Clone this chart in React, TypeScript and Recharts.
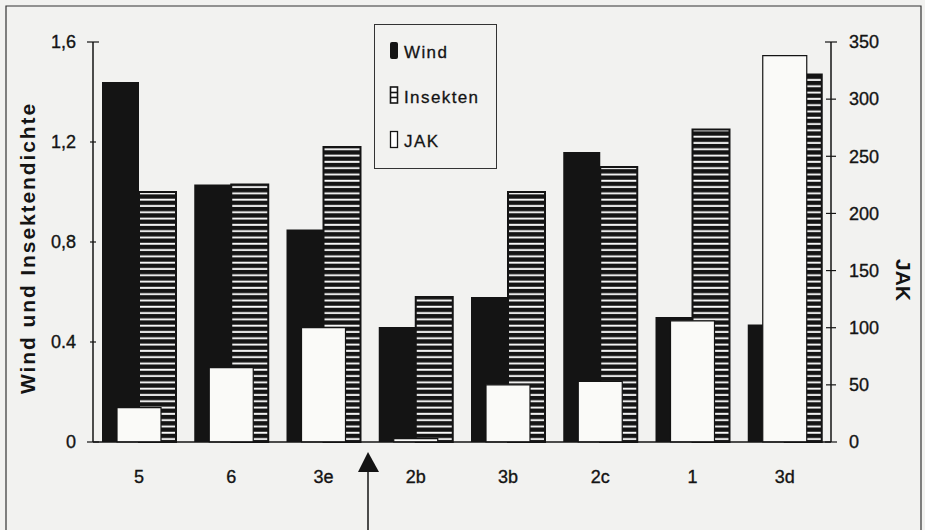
import React from "react";
import { Bar, BarChart, Legend, XAxis, YAxis } from "recharts";

const sites = ["5", "6", "3e", "2b", "3b", "2c", "1", "3d"];
const wind = [1.44, 1.03, 0.85, 0.46, 0.58, 1.16, 0.5, 0.47];
const insekten = [1.0, 1.03, 1.18, 0.58, 1.0, 1.1, 1.25, 1.47];
const jak = [30, 65, 100, 3, 50, 53, 106, 338];

const leftTicks = [0, 0.4, 0.8, 1.2, 1.6];
const leftTickLabels = ["0", "0.4", "0,8", "1,2", "1,6"];
const rightTicks = [0, 50, 100, 150, 200, 250, 300, 350];
const legendOrder = ["wind", "insekten", "jak"];

const data = sites.map((site, i) => ({
  site,
  wind: wind[i],
  insekten: insekten[i],
  jak: jak[i],
}));

const FONT = "'Liberation Sans', Arial, sans-serif";
const INK = "#141414";
const BG = "#f2f2f0";

const LeftTick = (props: any) => {
  const { x, y, payload } = props;
  const i = leftTicks.indexOf(payload.value);
  const ax = x + 17;
  const half = i === 0 || i === leftTicks.length - 1 ? 6 : 3;
  return (
    <g>
      <line x1={ax - half} x2={ax + half} y1={y} y2={y} stroke={INK} strokeWidth={1.2} />
      <text
        x={x}
        y={y}
        dy="0.35em"
        textAnchor="end"
        fontSize={18}
        fill={INK}
        stroke={INK}
        strokeWidth={0.35}
        fontFamily={FONT}
      >
        {leftTickLabels[i]}
      </text>
    </g>
  );
};

const RightTick = (props: any) => {
  const { x, y, payload } = props;
  const i = rightTicks.indexOf(payload.value);
  const ax = x - 18;
  const half = i === 0 || i === rightTicks.length - 1 ? 6 : 5;
  return (
    <g>
      <line x1={ax - half} x2={ax + half} y1={y} y2={y} stroke={INK} strokeWidth={1.2} />
      <text
        x={x}
        y={y}
        dy="0.35em"
        textAnchor="start"
        fontSize={18}
        fill={INK}
        stroke={INK}
        strokeWidth={0.35}
        fontFamily={FONT}
      >
        {payload.value}
      </text>
    </g>
  );
};

const LeftTitle = (props: any) => {
  const { viewBox } = props;
  const cx = viewBox.x + 27;
  const cy = viewBox.y + viewBox.height / 2 + 6;
  return (
    <text
      x={cx}
      y={cy}
      transform={`rotate(-90 ${cx} ${cy})`}
      textAnchor="middle"
      dominantBaseline="central"
      fontSize={21}
      fontWeight="bold"
      letterSpacing={1.9}
      fill={INK}
      fontFamily={FONT}
    >
      Wind und Insektendichte
    </text>
  );
};

const RightTitle = (props: any) => {
  const { viewBox } = props;
  const cx = viewBox.x + 72;
  const cy = viewBox.y + viewBox.height / 2 + 38;
  return (
    <text
      x={cx}
      y={cy}
      transform={`rotate(90 ${cx} ${cy})`}
      textAnchor="middle"
      dominantBaseline="central"
      fontSize={21}
      fontWeight="bold"
      fill={INK}
      fontFamily={FONT}
    >
      JAK
    </text>
  );
};

const LegendIcon = ({ kind, y }: { kind: string; y: number }) => {
  if (kind === "wind") {
    return <rect x={16} y={y} width={8} height={17} rx={2} fill={INK} />;
  }
  if (kind === "insekten") {
    return (
      <g>
        <rect x={16.5} y={y + 0.5} width={7} height={16} fill="#fff" stroke={INK} strokeWidth={1.6} />
        <line x1={16.5} x2={23.5} y1={y + 6} y2={y + 6} stroke={INK} strokeWidth={1.6} />
        <line x1={16.5} x2={23.5} y1={y + 11} y2={y + 11} stroke={INK} strokeWidth={1.6} />
      </g>
    );
  }
  return <rect x={16.5} y={y + 0.5} width={7} height={16} fill="#fff" stroke={INK} strokeWidth={1.3} />;
};

const renderLegend = (props: any) => {
  const items = [...(props.payload || [])].sort(
    (a: any, b: any) => legendOrder.indexOf(a.dataKey) - legendOrder.indexOf(b.dataKey)
  );
  return (
    <svg width={123} height={145} style={{ display: "block" }}>
      <rect x={0.5} y={0.5} width={122} height={144} fill={BG} stroke="#333" strokeWidth={1} />
      {items.map((entry: any, i: number) => {
        const baseline = 34 + i * 44.5;
        return (
          <g key={entry.value}>
            <LegendIcon kind={entry.dataKey} y={baseline - 16} />
            <text
              x={30}
              y={baseline}
              fontSize={17}
              letterSpacing={1.4}
              fill={INK}
              stroke={INK}
              strokeWidth={0.3}
              fontFamily={FONT}
            >
              {entry.value}
            </text>
          </g>
        );
      })}
    </svg>
  );
};

export default function App() {
  return (
    <div
      style={{
        position: "absolute",
        left: 0,
        top: 0,
        width: 925,
        height: 530,
        background: BG,
        overflow: "hidden",
      }}
    >
      <BarChart
        width={925}
        height={530}
        data={data}
        margin={{ top: 42, right: 0, bottom: 48, left: 0 }}
        barGap={0}
      >
        <defs>
          <pattern id="stripes" width={8} height={6.3} patternUnits="userSpaceOnUse">
            <rect width={8} height={6.3} fill={INK} />
            <rect y={3.4} width={8} height={1.9} fill="#fafafa" />
          </pattern>
        </defs>
        <XAxis
          dataKey="site"
          height={40}
          tickLine={false}
          tickSize={0}
          tickMargin={28}
          axisLine={{ stroke: INK, strokeWidth: 1.5 }}
          tick={{ fontSize: 18, fill: INK, stroke: INK, strokeWidth: 0.35, fontFamily: FONT }}
        />
        <XAxis xAxisId="jak" dataKey="site" hide />
        <YAxis
          yAxisId="left"
          width={93}
          domain={[0, 1.6]}
          ticks={leftTicks}
          interval={0}
          tickLine={false}
          tickSize={0}
          tickMargin={17}
          axisLine={{ stroke: INK, strokeWidth: 1.5 }}
          tick={<LeftTick />}
          label={<LeftTitle />}
        />
        <YAxis
          yAxisId="right"
          orientation="right"
          width={94}
          domain={[0, 350]}
          ticks={rightTicks}
          interval={0}
          tickLine={false}
          tickSize={0}
          tickMargin={18}
          axisLine={{ stroke: INK, strokeWidth: 1.5 }}
          tick={<RightTick />}
          label={<RightTitle />}
        />
        <Legend
          layout="vertical"
          align="center"
          verticalAlign="middle"
          content={renderLegend}
          wrapperStyle={{ position: "absolute", left: 374, top: 24, width: 123, height: 145 }}
        />
        <Bar
          yAxisId="left"
          dataKey="wind"
          name="Wind"
          barSize={37}
          fill={INK}
          isAnimationActive={false}
        />
        <Bar
          yAxisId="left"
          dataKey="insekten"
          name="Insekten"
          barSize={37}
          fill="url(#stripes)"
          stroke={INK}
          strokeWidth={2}
          isAnimationActive={false}
        />
        <Bar
          xAxisId="jak"
          yAxisId="right"
          dataKey="jak"
          name="JAK"
          barSize={44}
          fill="#fafaf8"
          stroke={INK}
          strokeWidth={1.2}
          isAnimationActive={false}
        />
      </BarChart>
      <svg
        width={925}
        height={530}
        style={{ position: "absolute", left: 0, top: 0, pointerEvents: "none" }}
      >
        <polyline points="6,540 6,6 921,6 921,540" fill="none" stroke="#333" strokeWidth={1.2} />
        <polygon points="368,452 358,472 379,472" fill={INK} />
        <line x1={368} x2={368} y1={470} y2={530} stroke={INK} strokeWidth={1.5} />
      </svg>
    </div>
  );
}
